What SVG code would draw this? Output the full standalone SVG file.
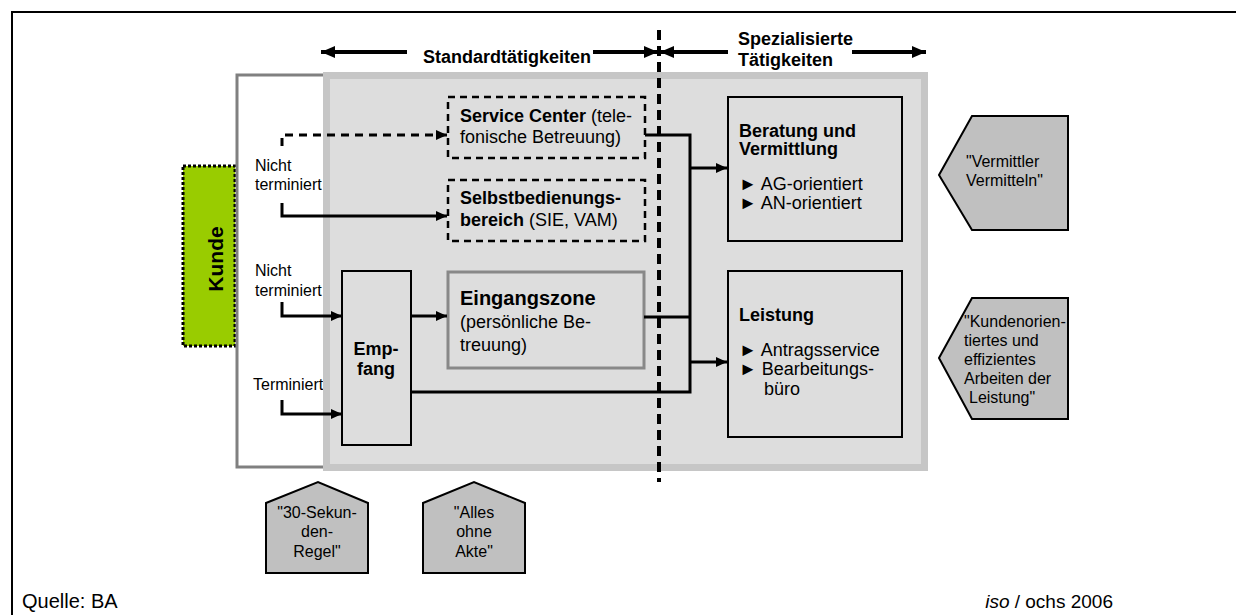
<svg xmlns="http://www.w3.org/2000/svg" width="1236" height="615" viewBox="0 0 1236 615">
<defs>
<style>
text{font-family:"Liberation Sans",Arial,sans-serif;fill:#000}
.b{font-weight:bold}
.t16{font-size:16px}
.t18{font-size:18px}
.conn{fill:none;stroke:#000;stroke-width:3}
.hdr{fill:none;stroke:#000;stroke-width:4}
.box{fill:#DDDDDD;stroke:#000;stroke-width:2}
.dbox{fill:none;stroke:#000;stroke-width:2.5;stroke-dasharray:7 5}
.pent{fill:#C0C0C0;stroke:#000;stroke-width:2}
</style>
<marker id="ah" markerUnits="userSpaceOnUse" markerWidth="11" markerHeight="10" refX="11" refY="5" orient="auto">
<path d="M0,0 L11,5 L0,10 z" fill="#000"/>
</marker>
<marker id="ahb" markerUnits="userSpaceOnUse" markerWidth="14" markerHeight="12" refX="14" refY="6" orient="auto">
<path d="M0,0 L14,6 L0,12 z" fill="#000"/>
</marker>
</defs>
<rect width="1236" height="615" fill="#fff"/>
<rect x="12" y="12" width="1240" height="620" fill="none" stroke="#000" stroke-width="2"/>

<g id="kunde">
<rect x="183" y="166" width="52" height="180" fill="#99CC00" stroke="#000" stroke-width="3" stroke-dasharray="3 2"/>
<text class="b" font-size="21" text-anchor="middle" transform="translate(223,259) rotate(-90)">Kunde</text>
</g>

<g id="client-zone">
<rect x="237" y="75" width="89" height="392" fill="#fff" stroke="#808080" stroke-width="3"/>
<text class="t16" x="255" y="171">Nicht</text>
<text class="t16" x="255" y="190">terminiert</text>
<text class="t16" x="255" y="276">Nicht</text>
<text class="t16" x="255" y="296">terminiert</text>
<text class="t16" x="253" y="390">Terminiert</text>
</g>

<g id="work-area">
<rect x="326.5" y="75.5" width="598" height="392" fill="#DDDDDD" stroke="#C6C6C6" stroke-width="7"/>
</g>

<g id="service-center">
<rect class="dbox" x="448" y="97" width="197" height="61"/>
<text class="t18" x="460" y="122"><tspan class="b">Service Center</tspan> (tele-</text>
<text class="t18" x="460" y="143">fonische Betreuung)</text>
</g>

<g id="selbstbedienung">
<rect class="dbox" x="448" y="180" width="197" height="61"/>
<text class="t18 b" x="460" y="204">Selbstbedienungs-</text>
<text class="t18" x="460" y="226"><tspan class="b">bereich</tspan> (SIE, VAM)</text>
</g>

<g id="empfang">
<rect class="box" x="342" y="271" width="69" height="174"/>
<text class="t18 b" x="376" y="355" text-anchor="middle">Emp-</text>
<text class="t18 b" x="376" y="375" text-anchor="middle">fang</text>
</g>

<g id="eingangszone">
<rect x="448" y="272" width="196" height="96" fill="#DDDDDD" stroke="#888888" stroke-width="3"/>
<text class="b" font-size="20" x="460" y="305">Eingangszone</text>
<text class="t18" x="460" y="328">(persönliche Be-</text>
<text class="t18" x="460" y="351">treuung)</text>
</g>

<g id="beratung">
<rect class="box" x="728" y="97" width="174" height="144"/>
<text class="t18 b" x="739" y="137">Beratung und</text>
<text class="t18 b" x="739" y="155">Vermittlung</text>
<text class="t18" x="739" y="190">► AG-orientiert</text>
<text class="t18" x="739" y="209">► AN-orientiert</text>
</g>

<g id="leistung">
<rect class="box" x="728" y="271" width="174" height="166"/>
<text class="t18 b" x="739" y="321">Leistung</text>
<text class="t18" x="739" y="356">► Antragsservice</text>
<text class="t18" x="739" y="375">► Bearbeitungs-</text>
<text class="t18" x="764" y="395">büro</text>
</g>

<g id="vermittler-note">
<polygon class="pent" points="939,175 972,116 1068,116 1068,230 972,230"/>
<text class="t16" x="966" y="167">"Vermittler</text>
<text class="t16" x="966" y="186">Vermitteln"</text>
</g>

<g id="leistung-note">
<polygon class="pent" points="939,358 972,298 1068,298 1068,419 972,419"/>
<text class="t16" x="964" y="327">"Kundenorien-</text>
<text class="t16" x="964" y="346">tiertes und</text>
<text class="t16" x="964" y="365">effizientes</text>
<text class="t16" x="964" y="384">Arbeiten der</text>
<text class="t16" x="969" y="403">Leistung"</text>
</g>

<g id="regel-note">
<polygon class="pent" points="266,503 318,482 368,503 368,573 266,573"/>
<text class="t16" x="317" y="518" text-anchor="middle">"30-Sekun-</text>
<text class="t16" x="317" y="537" text-anchor="middle">den-</text>
<text class="t16" x="317" y="557" text-anchor="middle">Regel"</text>
</g>

<g id="akte-note">
<polygon class="pent" points="423,503 474,482 525,503 525,573 423,573"/>
<text class="t16" x="474" y="518" text-anchor="middle">"Alles</text>
<text class="t16" x="474" y="537" text-anchor="middle">ohne</text>
<text class="t16" x="474" y="557" text-anchor="middle">Akte"</text>
</g>

<g id="headers">
<text class="t18 b" x="423" y="63">Standardtätigkeiten</text>
<text class="t18 b" x="738" y="45">Spezialisierte</text>
<text class="t18 b" x="738" y="66">Tätigkeiten</text>
</g>

<g id="connectors">
<line x1="659" y1="30" x2="659" y2="482" stroke="#000" stroke-width="4" stroke-dasharray="10 6"/>
<path class="hdr" d="M407,52 H321" marker-end="url(#ahb)"/>
<path class="hdr" d="M593,52 H658" marker-end="url(#ahb)"/>
<path class="hdr" d="M728,52 H660" marker-end="url(#ahb)"/>
<path class="hdr" d="M852,52 H926" marker-end="url(#ahb)"/>
<path class="conn" d="M282,146 V135 H447" stroke-dasharray="8 6" marker-end="url(#ah)"/>
<path class="conn" d="M282,203 V216 H447" marker-end="url(#ah)"/>
<path class="conn" d="M282,302 V316 H342" marker-end="url(#ah)"/>
<path class="conn" d="M282,400 V414 H342" marker-end="url(#ah)"/>
<path class="conn" d="M411,316 H447" marker-end="url(#ah)"/>
<path class="conn" d="M645,135 H690 V392 H411"/>
<path class="conn" d="M644,317 H690"/>
<path class="conn" d="M690,168 H727" marker-end="url(#ah)"/>
<path class="conn" d="M690,362 H727" marker-end="url(#ah)"/>
</g>

<g id="footer">
<text font-size="20" x="22" y="608">Quelle: BA</text>
<text font-size="19" x="1113" y="608" text-anchor="end"><tspan font-style="italic">iso</tspan> / ochs 2006</text>
</g>
</svg>
